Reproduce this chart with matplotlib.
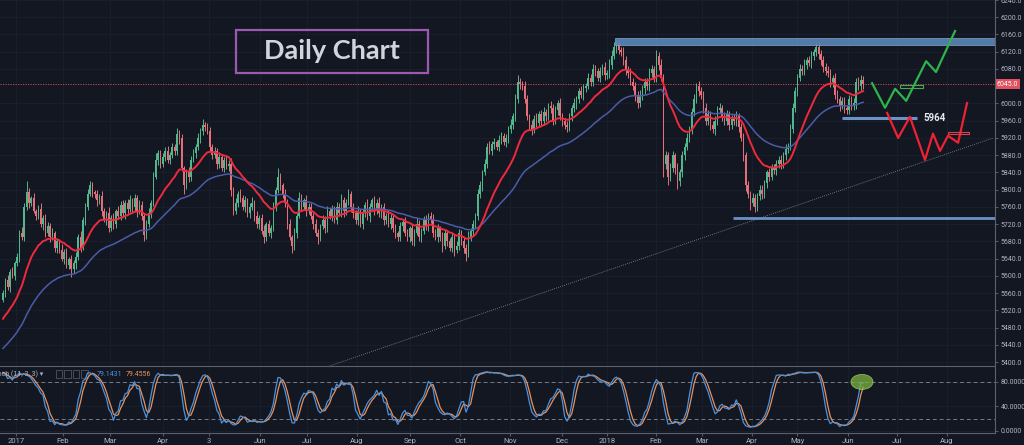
import numpy as np
import pandas as pd
import matplotlib
matplotlib.use("Agg")
import matplotlib.pyplot as plt
from matplotlib.patches import Ellipse, Rectangle
from matplotlib.transforms import blended_transform_factory

# closes before the visible window (only used to warm up the averages)
lead_closes = [5290, 5300, 5285, 5310, 5320, 5305, 5330, 5345, 5335, 5360,
               5350, 5370, 5385, 5375, 5395, 5410, 5400, 5420, 5430, 5415,
               5440, 5450, 5435, 5460, 5470, 5455, 5480, 5490, 5475, 5500,
               5495, 5510, 5520, 5505, 5530, 5525, 5540, 5535, 5550, 5545]

# daily closes, Jan 2017 - Jun 2018 (open = previous close)
closes = [
    5560, 5590, 5575, 5610, 5600, 5630, 5645, 5700, 5690, 5760,
    5795, 5770, 5780, 5750, 5740, 5755, 5720, 5735, 5700, 5715,
    5690, 5700, 5665, 5680, 5660, 5640, 5655, 5625, 5640, 5615,
    5630, 5645, 5690, 5665, 5730, 5760, 5790, 5810, 5795, 5790,
    5775, 5785, 5750, 5730, 5745, 5710, 5735, 5720, 5750, 5740,
    5765, 5745, 5770, 5755, 5775, 5760, 5780, 5750, 5765, 5740,
    5695, 5720, 5745, 5770, 5830, 5870, 5885, 5860, 5875, 5890,
    5870, 5880, 5900, 5890, 5930, 5920, 5850, 5810, 5840, 5830,
    5870, 5885, 5900, 5920, 5935, 5950, 5945, 5935, 5900, 5880,
    5890, 5860, 5875, 5850, 5870, 5855, 5860, 5800, 5750, 5770,
    5790, 5780, 5760, 5775, 5745, 5760, 5770, 5740, 5720, 5735,
    5705, 5690, 5720, 5700, 5710, 5760, 5800, 5830, 5810, 5790,
    5770, 5720, 5690, 5670, 5700, 5740, 5780, 5760, 5775, 5750,
    5760, 5740, 5720, 5700, 5690, 5715, 5730, 5710, 5750, 5740,
    5755, 5730, 5760, 5745, 5775, 5750, 5770, 5790, 5760, 5745,
    5730, 5750, 5720, 5745, 5765, 5740, 5760, 5775, 5750, 5770,
    5745, 5760, 5730, 5740, 5720, 5735, 5710, 5700, 5690, 5715,
    5725, 5700, 5690, 5710, 5680, 5700, 5720, 5690, 5705, 5730,
    5715, 5740, 5730, 5700, 5690, 5710, 5690, 5670, 5700, 5680,
    5665, 5690, 5660, 5670, 5700, 5680, 5665, 5650, 5690, 5705,
    5720, 5740, 5790, 5810, 5840, 5860, 5900, 5890, 5905, 5910,
    5900, 5915, 5925, 5910, 5920, 5940, 5950, 5970, 6010, 6050,
    6045, 6040, 6010, 5970, 5950, 5940, 5965, 5955, 5975, 5960,
    5980, 5970, 5995, 5990, 5960, 5985, 6000, 5970, 5960, 5950,
    5945, 5970, 5990, 6000, 6010, 6030, 6020, 6035, 6040, 6060,
    6050, 6080, 6075, 6060, 6075, 6085, 6065, 6070, 6090, 6110,
    6130, 6140, 6125, 6120, 6100, 6080, 6070, 6050, 6040, 6020,
    6000, 6020, 6035, 6050, 6040, 6070, 6080, 6060, 6110, 6090,
    6060, 5860, 5880, 5830, 5850, 5880, 5850, 5820, 5840, 5880,
    5900, 5920, 5940, 5980, 6010, 6040, 6030, 6020, 5990, 5960,
    5975, 5950, 5940, 5960, 5985, 5990, 5970, 5960, 5975, 5950,
    5965, 5960, 5970, 5945, 5920, 5880, 5810, 5790, 5770, 5780,
    5760, 5785, 5800, 5790, 5815, 5840, 5830, 5850, 5845, 5860,
    5870, 5860, 5880, 5895, 5900, 5940, 5990, 6030, 6060, 6080,
    6075, 6090, 6100, 6095, 6110, 6120, 6130, 6115, 6100, 6085,
    6075, 6070, 6050, 6060, 6020, 6010, 5995, 6005, 5990, 5985,
    6010, 5995, 6000, 6050, 6040, 6055, 6045]

# wick lengths above / below the candle body (points)
wick_up = [
    8, 5, 12, 6, 10, 4, 9, 7, 14, 8, 25, 10, 6, 12, 5, 9, 14, 6, 8, 11,
    7, 12, 5, 9, 6, 13, 8, 10, 4, 9, 6, 11, 8, 14, 6, 9, 12, 10, 7, 5,
    9, 6, 12, 8, 5, 14, 7, 10, 6, 12, 8, 11, 6, 9, 13, 5, 10, 7, 12, 8,
    6, 9, 12, 7, 10, 15, 8, 6, 11, 9, 12, 7, 9, 5, 14, 8, 10, 6, 9, 13,
    7, 10, 5, 12, 8, 14, 6, 9, 11, 7, 10, 6, 13, 8, 5, 11, 9, 14, 7, 10,
    6, 12, 8, 10, 5, 9, 13, 7, 11, 6, 9, 14, 6, 10, 8, 12, 7, 20, 9, 6,
    11, 8, 13, 6, 10, 7, 15, 9, 5, 12, 8, 10, 6, 12, 9, 5, 11, 8, 13, 7,
    10, 6, 12, 9, 14, 7, 8, 11, 6, 10, 9, 12, 5, 10, 7, 13, 8, 6, 11, 9,
    12, 7, 10, 6, 13, 9, 8, 11, 5, 10, 7, 11, 9, 6, 12, 8, 14, 10, 7, 9,
    11, 6, 9, 13, 8, 10, 5, 12, 9, 7, 8, 10, 6, 12, 9, 7, 11, 8, 14, 6,
    10, 7, 12, 9, 6, 11, 8, 13, 7, 10, 6, 12, 9, 7, 10, 8, 13, 9, 11, 15,
    9, 7, 12, 10, 6, 11, 8, 13, 7, 10, 12, 8, 6, 11, 9, 10, 7, 12, 8, 6,
    10, 9, 7, 12, 8, 6, 11, 9, 7, 10, 8, 12, 9, 7, 10, 6, 11, 8, 12, 14,
    12, 10, 8, 6, 11, 9, 7, 12, 8, 10, 9, 11, 7, 10, 8, 12, 9, 6, 13, 10,
    14, 8, 10, 7, 12, 9, 6, 11, 8, 10, 9, 12, 8, 10, 13, 7, 11, 9, 8, 12,
    10, 7, 9, 12, 8, 11, 6, 10, 9, 7, 8, 10, 12, 7, 9, 11, 8, 10, 6, 12,
    9, 7, 10, 12, 8, 6, 11, 9, 10, 8, 7, 10, 8, 11, 9, 12, 10, 8, 9, 11,
    10, 12, 8, 9, 11, 7, 10, 12, 8, 9, 8, 11, 9, 7, 10, 12, 8, 9, 11, 7,
    10, 8, 12, 9, 11, 10, 8]
wick_dn = [
    6, 10, 7, 12, 5, 9, 8, 13, 6, 10, 7, 12, 9, 5, 11, 8, 6, 14, 9, 7,
    11, 6, 9, 13, 8, 5, 12, 7, 10, 18, 9, 13, 7, 10, 6, 12, 8, 5, 11, 9,
    12, 8, 10, 6, 13, 9, 7, 11, 8, 5, 10, 7, 12, 8, 6, 11, 9, 13, 7, 10,
    14, 9, 7, 11, 8, 6, 12, 10, 7, 9, 8, 11, 6, 10, 9, 13, 7, 20, 8, 12,
    9, 6, 11, 8, 12, 7, 10, 6, 13, 9, 7, 12, 9, 6, 10, 8, 11, 14, 9, 7,
    11, 8, 6, 12, 9, 10, 7, 13, 8, 11, 8, 14, 9, 7, 12, 6, 10, 8, 11, 9,
    10, 12, 7, 18, 9, 11, 6, 10, 8, 12, 7, 9, 12, 8, 15, 10, 6, 11, 9, 8,
    12, 8, 10, 7, 9, 13, 8, 6, 11, 10, 9, 11, 7, 12, 8, 10, 14, 7, 9, 6,
    8, 10, 12, 9, 7, 11, 8, 13, 10, 9, 11, 7, 9, 12, 8, 10, 6, 9, 12, 8,
    9, 12, 8, 10, 7, 11, 9, 14, 8, 10, 7, 10, 13, 8, 11, 9, 12, 15, 7, 9,
    10, 8, 11, 9, 12, 7, 10, 8, 9, 11, 8, 11, 9, 7, 10, 12, 8, 9, 11, 10,
    12, 9, 10, 8, 11, 13, 9, 10, 7, 12, 9, 11, 8, 12, 10, 7, 11, 9, 13, 10,
    11, 8, 10, 9, 12, 10, 8, 11, 9, 7, 10, 9, 12, 8, 11, 9, 10, 8, 12, 9,
    8, 12, 10, 9, 11, 13, 10, 8, 9, 14, 10, 9, 11, 12, 8, 10, 9, 11, 10, 12,
    9, 30, 12, 20, 10, 9, 14, 18, 11, 10, 12, 9, 10, 11, 8, 9, 12, 10, 11, 9,
    10, 11, 9, 12, 10, 8, 11, 9, 10, 12, 9, 10, 12, 11, 8, 14, 12, 10, 16, 9,
    11, 9, 10, 12, 9, 11, 10, 8, 9, 10, 10, 12, 9, 10, 11, 8, 9, 10, 12, 9,
    9, 10, 11, 8, 12, 10, 9, 11, 10, 12, 10, 9, 12, 11, 9, 10, 12, 9, 11, 10,
    9, 11, 10, 12, 9, 10, 11]

month_labels = ["2017", "Feb", "Mar", "Apr", "3", "Jun", "Jul", "Aug", "Sep", "Oct",
                "Nov", "Dec", "2018", "Feb", "Mar", "Apr", "May", "Jun", "Jul", "Aug"]
month_bars = [5.5, 25.5, 45.5, 68.1, 87.7, 109.4, 129.4, 150.6, 173.2, 194.5,
              215.7, 237.9, 257.0, 277.9, 297.4, 318.7, 337.9, 359.6, 380.4, 401.7]
# 6040 is hidden behind the last-price tag
price_ticks = [p for p in range(5400, 6241, 40) if p != 6040]
stoch_ticks = [0, 40, 80]

# hand drawn analysis objects (bar index, price)
band_start, band_lo, band_hi = 260.4, 6135, 6151
support_start, support_level = 310.6, 5735
mid_bars, mid_level = [357.0, 389.0], 5966
green_bars = [369.8, 375.3, 379.6, 384.3, 392.8, 397.0, 405.1]
green_prices = [6047, 5990, 6034, 6006, 6098, 6073, 6168]
green_box = (381.7, 391.5, 6036, 6043)
red_bars = [376.2, 380.9, 385.9, 392.3, 395.7, 398.7, 402.1, 406.4, 410.2]
red_prices = [5978, 5920, 5969, 5869, 5930, 5890, 5925, 5909, 6001]
red_box = (402.0, 411.0, 5929, 5934)
trend_bars = [139.0, 421.3]
trend_prices = [5391, 5920]
last_price = 6045.0
k_last, d_last = 79.1431, 79.4556

BG = "#131722"
GRID = "#1b2030"
TXT = "#b2b5be"
UP = "#53b78e"
DN = "#e5707a"

plt.rcParams["font.family"] = ["Roboto", "DejaVu Sans"]

# --- series ---
all_c = pd.Series(lead_closes + closes, dtype=float)
n_lead = len(lead_closes)
all_o = all_c.shift(1).fillna(all_c.iloc[0])
body_hi = np.maximum(all_o, all_c)
body_lo = np.minimum(all_o, all_c)
all_h = body_hi.copy()
all_l = body_lo.copy()
all_h.iloc[n_lead:] = body_hi.iloc[n_lead:].values + np.array(wick_up)
all_l.iloc[n_lead:] = body_lo.iloc[n_lead:].values - np.array(wick_dn)

ema20 = all_c.ewm(span=20, adjust=False).mean().iloc[n_lead:].values
ema50 = all_c.ewm(span=50, adjust=False).mean().iloc[n_lead:].values

ll = all_l.rolling(11).min()
hh = all_h.rolling(11).max()
k_raw = 100 * (all_c - ll) / (hh - ll)
k = k_raw.rolling(3).mean()
d = k.rolling(3).mean()
k = k.iloc[n_lead:].values
d = d.iloc[n_lead:].values

x = np.arange(len(closes))
o = all_o.iloc[n_lead:].values
c = np.array(closes, dtype=float)
h = all_h.iloc[n_lead:].values
l = all_l.iloc[n_lead:].values
cols = [UP if cc >= oo else DN for oo, cc in zip(o, c)]

# --- figure ---
fig = plt.figure(figsize=(10.24, 4.45), dpi=100, facecolor=BG)
ax = fig.add_axes([0, 1 - 366 / 445, 995 / 1024, 366 / 445])
ax2 = fig.add_axes([0, 12 / 445, 995 / 1024, 67 / 445])

xlim = (-1.28, 422.1)
for a in (ax, ax2):
    a.set_facecolor(BG)
    a.set_xlim(*xlim)
    for s in a.spines.values():
        s.set_visible(False)
    a.set_xticks(month_bars)
    a.grid(True, color=GRID, linewidth=0.6)
    a.set_axisbelow(True)

ax.set_ylim(5391, 6237)
ax.set_yticks(price_ticks)
ax.yaxis.tick_right()
ax.tick_params(axis="y", colors=TXT, labelsize=5, length=2, pad=2, color="#555a66")
ax.yaxis.set_major_formatter(matplotlib.ticker.FormatStrFormatter("%.1f"))
ax.tick_params(axis="x", length=0, labelbottom=False)

# candles
ax.vlines(x, l, h, colors=cols, linewidth=0.7, zorder=2)
ax.bar(x, np.maximum(np.abs(c - o), 1.5), bottom=np.minimum(o, c), width=0.62,
       color=cols, linewidth=0, zorder=3)
ax.plot(x, ema50, color="#4a5ca8", linewidth=1.1, zorder=4)
ax.plot(x, ema20, color="#ee2a3c", linewidth=1.4, zorder=5)

# last price line and tag
ax.axhline(last_price, color="#d9505c", linewidth=0.6, linestyle=(0, (1.5, 1.5)), zorder=1)
tr = blended_transform_factory(ax.transAxes, ax.transData)
ax.text(1.002, last_price, f"{last_price:.1f}", transform=tr, fontsize=5, color="white",
        va="center", ha="left", clip_on=False,
        bbox=dict(boxstyle="square,pad=0.25", fc="#e0505e", ec="none"))

# analysis drawings
ax.add_patch(Rectangle((band_start, band_lo), xlim[1] - band_start, band_hi - band_lo,
                       facecolor="#5c86b8", edgecolor="#7aa0cc", linewidth=0.6,
                       alpha=0.9, zorder=6))
ax.hlines(support_level, support_start, xlim[1], color="#6a92c4", linewidth=2.0, zorder=6)
ax.hlines(mid_level, mid_bars[0], mid_bars[1], color="#6a92c4", linewidth=2.2, zorder=6)
ax.text(mid_bars[1] + 2.5, mid_level, "5964", color="#e6e8ee", fontsize=7,
        fontweight="bold", va="center", ha="left", zorder=7)
ax.plot(trend_bars, trend_prices, color="#8c909c", linewidth=0.6,
        linestyle=(0, (1, 1.5)), zorder=1)
ax.plot(green_bars, green_prices, color="#2fb34a", linewidth=1.6, zorder=7)
ax.add_patch(Rectangle((green_box[0], green_box[2]), green_box[1] - green_box[0],
                       green_box[3] - green_box[2], fill=False, edgecolor="#3fae55",
                       linewidth=0.8, zorder=7))
ax.plot(red_bars, red_prices, color="#ee2233", linewidth=1.6, zorder=7)
ax.add_patch(Rectangle((red_box[0], red_box[2]), red_box[1] - red_box[0],
                       red_box[3] - red_box[2], fill=False, edgecolor="#e0404a",
                       linewidth=0.8, zorder=7))

# title box
fig.patches.append(Rectangle((236 / 1024, 1 - 73 / 445), 192 / 1024, 43 / 445,
                             transform=fig.transFigure, fill=False,
                             edgecolor="#9d58b0", linewidth=1.6))
fig.text(332 / 1024, 1 - 51 / 445, "Daily Chart", family=["Lato", "DejaVu Sans"],
         fontweight="bold", fontsize=19.5, color="#d1d4dc", ha="center", va="center")

# stochastic panel
ax2.set_ylim(-3.3, 106)
ax2.set_yticks(stoch_ticks)
ax2.yaxis.tick_right()
ax2.yaxis.set_major_formatter(matplotlib.ticker.FormatStrFormatter("%.4f"))
ax2.tick_params(axis="y", colors=TXT, labelsize=5, length=2, pad=2, color="#555a66")
ax2.set_xticklabels(month_labels)
ax2.tick_params(axis="x", colors=TXT, labelsize=5.5, length=2, pad=1.5, color="#555a66")
ax2.axhline(80, color="#787b86", linewidth=0.7, linestyle=(0, (4, 3)))
ax2.axhline(20, color="#787b86", linewidth=0.7, linestyle=(0, (4, 3)))
ax2.plot(x, d, color="#e8915a", linewidth=0.9)
ax2.plot(x, k, color="#4a92de", linewidth=0.9)
ax2.add_patch(Ellipse((365.5, 80), 9.4, 24.5, facecolor="#7cb342", edgecolor="#a5d36a",
                      linewidth=0.6, alpha=0.75, zorder=5))

ax2.text(-0.009, 0.88, "Stoch (11, 3, 3) \u25be", transform=ax2.transAxes, fontsize=5,
         color=TXT, ha="left", va="center", clip_on=False)
for i in range(4):
    ax2.add_patch(Rectangle((0.056 + i * 0.0085, 0.82), 0.0065, 0.12,
                            transform=ax2.transAxes, fill=False,
                            edgecolor="#5d606b", linewidth=0.5))
ax2.text(0.097, 0.88, f"{k_last:.4f}", transform=ax2.transAxes, fontsize=5,
         color="#4a92de", ha="left", va="center")
ax2.text(0.126, 0.88, f"{d_last:.4f}", transform=ax2.transAxes, fontsize=5,
         color="#e8915a", ha="left", va="center")

# panel borders
fig.add_artist(plt.Line2D([0, 995 / 1024], [1 - 366 / 445] * 2, color="#5d606b", linewidth=0.8))
fig.add_artist(plt.Line2D([0, 995 / 1024], [12 / 445] * 2, color="#5d606b", linewidth=0.8))
fig.add_artist(plt.Line2D([995 / 1024] * 2, [12 / 445, 1], color="#5d606b", linewidth=0.8))

fig.savefig("out.png", dpi=100, facecolor=BG)
